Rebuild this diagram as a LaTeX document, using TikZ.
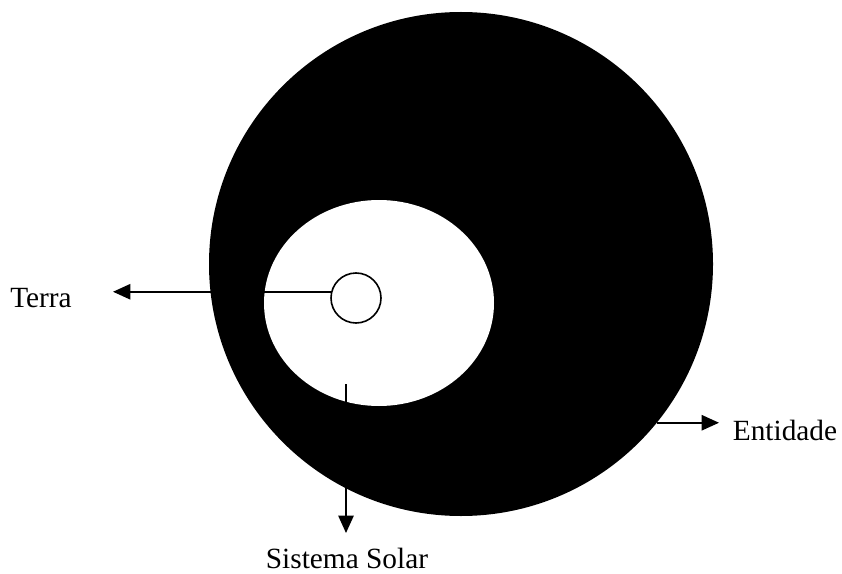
\documentclass[tikz,border=0pt]{standalone}
\usepackage{fontspec}
\setmainfont{Liberation Serif}
\usetikzlibrary{arrows.meta, shapes.geometric}

\begin{document}
\begin{tikzpicture}[x=0.75pt,y=-0.75pt,
    labeltext/.style={font=\fontsize{22}{26}\selectfont, inner sep=0pt},
    pointer/.style={line width=1.2pt, -{Triangle[length=13pt,width=11.5pt]}}]
    \useasboundingbox (0,0) rectangle (842,574);
    % regions
    \node[circle, fill=black, minimum size=378pt, inner sep=0pt] (entidade) at (461,264) {};
    \node[ellipse, fill=white, minimum width=172.5pt, minimum height=154.5pt, inner sep=0pt] (sistema) at (379,303) {};
    \node[circle, draw, line width=1.2pt, fill=white, minimum size=37.5pt, inner sep=0pt] (terra) at (356,298) {};
    % labels
    \node[labeltext] (terra-lbl) at (41,298) {Terra};
    \node[labeltext] (sistema-lbl) at (347,558) {Sistema Solar};
    \node[labeltext] (entidade-lbl) at (785,430) {Entidade};
    \coordinate (terra-tip) at (113,292);
    \coordinate (sistema-start) at (346,384);
    \coordinate (sistema-tip) at (346,533);
    \coordinate (entidade-tip) at (719,422);
    % pointers
    \draw[pointer] (terra.166) -- (terra.166 -| terra-tip);
    \draw[pointer] (sistema-start) -- (sistema-tip);
    \draw[pointer] (entidade.-39.5) -- (entidade.-39.5 -| entidade-tip);
\end{tikzpicture}
\end{document}
